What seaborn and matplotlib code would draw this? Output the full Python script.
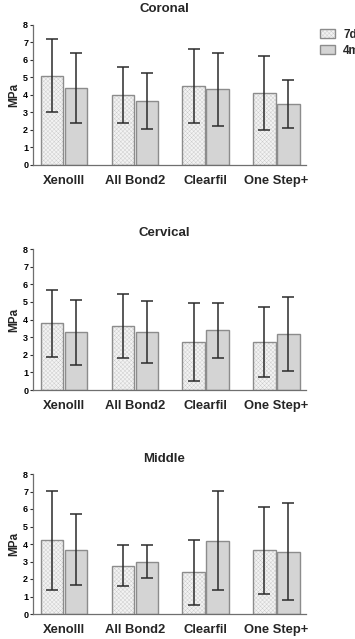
import numpy as np
import pandas as pd
import matplotlib.pyplot as plt
import matplotlib.patches as mpatches
import matplotlib.colors as mcolors
import seaborn as sns

sns.set_style("white")
plt.rcParams['font.family'] = ['Liberation Sans', 'DejaVu Sans']
plt.rcParams['hatch.linewidth'] = 0.3

adhesives = ["Xenolll", "All Bond2", "Clearfil", "One Step+"]
times = ["7d", "4m"]
regions = ["Coronal", "Cervical", "Middle"]

# mean / sd per region, order: adhesives, first 7d then 4m
coronal_7d = [5.1, 4.0, 4.5, 4.1]
coronal_7d_sd = [2.1, 1.6, 2.1, 2.1]
coronal_4m = [4.4, 3.65, 4.32, 3.47]
coronal_4m_sd = [2.0, 1.6, 2.07, 1.38]

cervical_7d = [3.8, 3.62, 2.72, 2.73]
cervical_7d_sd = [1.9, 1.82, 2.22, 1.98]
cervical_4m = [3.27, 3.3, 3.4, 3.18]
cervical_4m_sd = [1.85, 1.75, 1.56, 2.08]

middle_7d = [4.22, 2.75, 2.38, 3.63]
middle_7d_sd = [2.82, 1.17, 1.87, 2.46]
middle_4m = [3.68, 3.0, 4.2, 3.57]
middle_4m_sd = [2.05, 0.95, 2.83, 2.75]

means = {"Coronal": (coronal_7d, coronal_4m),
         "Cervical": (cervical_7d, cervical_4m),
         "Middle": (middle_7d, middle_4m)}
sds = {"Coronal": (coronal_7d_sd, coronal_4m_sd),
       "Cervical": (cervical_7d_sd, cervical_4m_sd),
       "Middle": (middle_7d_sd, middle_4m_sd)}

fill_7d = "#f3f3f3"
fill_4m = "#d4d4d4"
edge = "#8c8c8c"
hatch_col = mcolors.to_rgba("#c9c9c9")
hatch = "xxxxxxxx"

fig = plt.figure(figsize=(3.55, 6.39), dpi=100)
tops = [25, 249, 474]
bottoms = [165, 390, 614]

for region, top, bot in zip(regions, tops, bottoms):
    ax = fig.add_axes([33 / 355, 1 - bot / 639, 273 / 355, (bot - top) / 639])
    m7, m4 = means[region]
    s7, s4 = sds[region]
    df = pd.DataFrame({
        "adhesive": adhesives * 2,
        "time": [times[0]] * 4 + [times[1]] * 4,
        "MPa": m7 + m4,
    })
    sns.barplot(data=df, x="adhesive", y="MPa", hue="time", order=adhesives,
                hue_order=times, palette=[fill_7d, fill_4m], width=0.68, gap=0.06,
                errorbar=None, edgecolor=edge, linewidth=1.0, legend=False, ax=ax)
    for bar in ax.containers[0]:
        bar.set_hatch(hatch)
        bar._hatch_color = hatch_col
    for cont, sd in zip(ax.containers, (s7, s4)):
        xs = [b.get_x() + b.get_width() / 2 for b in cont]
        ys = [b.get_height() for b in cont]
        ax.errorbar(xs, ys, yerr=sd, fmt="none", ecolor="#2b2b2b",
                    elinewidth=1.1, capsize=4.2, capthick=1.1, zorder=5)

    ax.set_xlim(-0.44, 3.42)
    ax.set_ylim(0, 8)
    ax.set_yticks(range(0, 9))
    ax.tick_params(axis="y", labelsize=6.5, length=2.5, width=0.8, pad=1,
                   colors="#333333", left=True)
    ax.tick_params(axis="x", labelsize=9.4, length=0, pad=7)
    for lab in ax.get_xticklabels():
        lab.set_fontweight("bold")
    for lab in ax.get_yticklabels():
        lab.set_fontweight("bold")
        lab.set_color("black")
    ax.set_xlabel("")
    ax.set_ylabel("MPa", fontsize=8.5, fontweight="bold", labelpad=2)
    ax.set_title(region, fontsize=9.5, fontweight="bold", pad=9, x=0.48)
    sns.despine(ax=ax)
    for sp in ("left", "bottom"):
        ax.spines[sp].set_color("#6f6f6f")
        ax.spines[sp].set_linewidth(0.9)

    if region == "Coronal":
        handles = [mpatches.Patch(facecolor=fill_7d, edgecolor=edge, hatch=hatch, label=times[0]),
                   mpatches.Patch(facecolor=fill_4m, edgecolor=edge, label=times[1])]
        leg = fig.legend(handles=handles, loc="upper left", bbox_to_anchor=(320 / 355, 1 - 29 / 639),
                         frameon=False, prop={"weight": "bold", "size": 8.5},
                         borderpad=0, borderaxespad=0,
                         handlelength=1.27, handleheight=0.8, handletextpad=0.68, labelspacing=0.3)
        leg.get_patches()[0]._hatch_color = hatch_col

fig.savefig("out.png", dpi=100)
